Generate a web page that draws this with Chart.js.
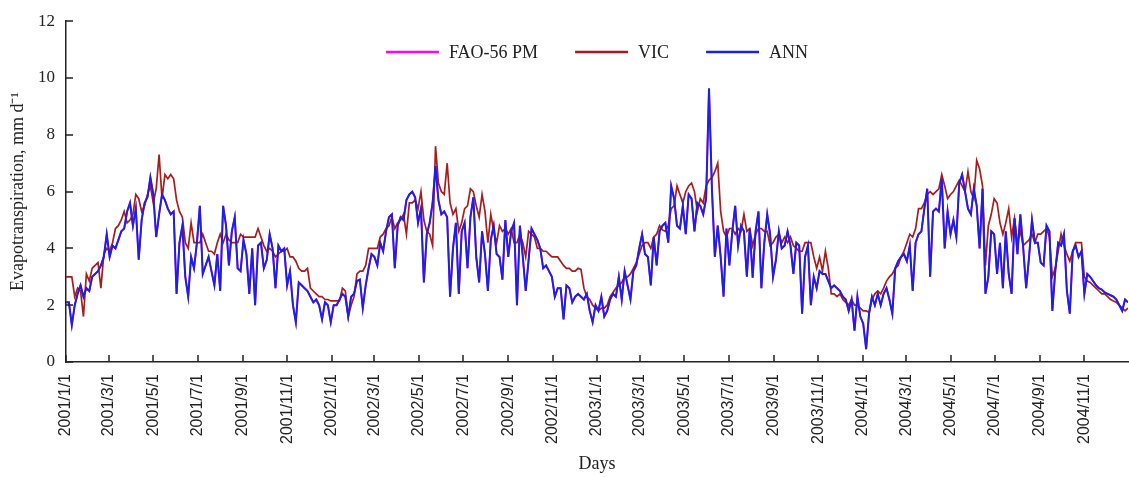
<!DOCTYPE html>
<html>
<head>
<meta charset="utf-8">
<title>Evapotranspiration 2001-2004</title>
<script src="https://cdn.jsdelivr.net/npm/chart.js@4.4.1/dist/chart.umd.min.js"></script>
<style>
  html, body { margin: 0; padding: 0; background: #fff; }
  canvas { display: block; }
</style>
</head>
<body>
<canvas id="etChart" width="1129" height="477"></canvas>
<script>
(function () {
    'use strict';

    // one value every 4 days, starting 2001/1/1 (366 samples up to 2004/12/31)
    const START_DATE = '2001/1/1';
    const STEP_DAYS = 4;

    const SERIES_NAMES = ['FAO-56 PM', 'VIC', 'ANN'];

    const TICK_LABELS = [
        '2001/1/1', '2001/3/1', '2001/5/1', '2001/7/1', '2001/9/1', '2001/11/1',
        '2002/1/1', '2002/3/1', '2002/5/1', '2002/7/1', '2002/9/1', '2002/11/1',
        '2003/1/1', '2003/3/1', '2003/5/1', '2003/7/1', '2003/9/1', '2003/11/1',
        '2004/1/1', '2004/3/1', '2004/5/1', '2004/7/1', '2004/9/1', '2004/11/1'
    ];
    const Y_TICKS = [0, 2, 4, 6, 8, 10, 12];

    // ANN estimate (mm/d)
    const annValues = [
        2.1,2.1,1.3,2.0,2.4,2.7,2.3,2.6,2.5,3.0, 3.1,3.2,3.4,3.7,4.5,3.7,4.1,4.0,4.3,4.6,
        4.7,5.3,5.6,4.8,5.4,3.6,5.0,5.6,5.8,6.5, 5.9,4.4,5.2,5.9,5.7,5.4,5.2,5.3,2.4,4.2,
        4.8,3.0,2.3,3.7,3.3,4.2,5.5,3.1,3.4,3.7, 3.2,2.7,3.8,2.5,5.5,4.8,3.4,4.6,5.1,3.3,
        3.2,4.3,3.8,2.4,4.0,2.0,4.1,4.2,3.3,3.6, 4.5,4.0,2.6,4.1,3.9,4.0,2.7,3.2,2.0,1.4,
        2.8,2.7,2.6,2.5,2.3,2.1,2.2,2.0,1.5,2.1, 2.0,1.4,2.0,2.0,2.2,2.4,2.3,1.6,2.3,2.4,
        2.85,2.9,1.9,2.7,3.3,3.8,3.7,3.4,4.2,3.9, 4.6,5.1,5.2,3.3,4.8,5.1,5.0,5.7,5.9,
        6.0,5.8,4.9,5.4,2.8,4.5,4.9,5.6,6.9,5.7, 5.2,5.3,5.1,2.3,4.0,4.9,2.4,4.6,4.9,3.3,
        5.1,5.8,3.7,2.8,4.6,3.8,2.5,4.3,4.8,3.8, 3.7,2.9,5.0,3.7,4.6,4.9,2.0,4.8,3.7,2.5,
        3.6,4.7,4.5,4.3,4.0,3.3,3.4,3.2,3.0,2.3, 2.6,2.6,1.5,2.7,2.6,2.1,2.3,2.4,
        2.3,2.2,2.4,1.8,1.4,2.0,1.8,2.3,1.6,1.8, 2.2,2.4,2.3,3.0,2.2,3.2,2.7,2.2,3.2,3.4,
        4.0,4.5,3.8,3.7,2.7,4.4,3.4,4.6,4.8,4.9, 4.2,6.2,5.75,4.8,4.7,5.5,4.5,5.9,5.75,4.6,
        5.6,5.5,5.2,5.75,9.64,6.1,3.7,4.8,3.7,2.3, 4.7,3.4,4.6,5.5,4.1,4.8,4.6,3.0,4.7,
        2.97,4.6,5.3,2.6,4.2,5.2,4.5,3.0,3.6,4.6, 4.0,4.1,4.6,4.1,3.1,4.2,4.1,1.7,3.7,4.1,
        2.0,3.0,2.6,3.2,3.1,3.1,2.85,2.6,2.7,2.6, 2.5,2.3,2.2,1.8,2.2,1.1,2.3,1.6,1.35,0.45,
        1.7,2.3,2.0,2.4,2.0,2.4,2.6,2.2,1.7,3.3, 3.55,3.7,3.8,3.55,4.1,2.5,4.2,4.5,
        4.6,5.4,6.1,3.0,5.3,5.4,5.3,6.45,4.0,5.3, 4.5,5.0,4.4,6.3,6.6,6.0,5.4,5.2,6.1,5.5,
        4.0,6.1,2.4,3.0,4.6,4.5,3.1,4.2,2.6,4.6, 3.1,2.4,5.06,3.8,5.2,4.0,2.6,3.7,5.0,4.2,
        4.2,3.5,3.4,4.8,4.6,1.8,3.2,4.2,4.1,4.5, 2.5,1.7,3.9,4.1,3.7,3.9,2.4,3.1,3.0,2.85,
        2.7,2.6,2.55,2.45,2.4,2.35,2.3,2.2,2.0,1.8, 2.2,2.1
    ];

    // VIC estimate (mm/d)
    const vicValues = [
        3.0,3.0,3.0,2.3,2.6,2.5,1.6,3.1,2.85,3.3, 3.4,3.5,2.6,3.8,4.0,3.9,4.2,4.7,4.8,5.0,
        5.3,4.9,5.0,5.2,5.9,5.75,5.3,5.5,5.9,6.2, 5.6,6.1,7.3,5.75,6.6,6.45,6.6,6.45,5.7,5.3,
        5.1,4.2,4.0,4.9,4.2,4.2,4.2,4.5,4.2,3.9, 3.9,3.8,4.2,4.5,4.2,4.5,4.3,4.2,4.2,4.2,
        4.5,4.4,4.4,4.4,4.4,4.4,4.7,4.4,4.1,3.9, 4.0,3.9,3.7,3.8,3.9,3.9,4.0,3.7,3.7,3.55,
        3.3,3.2,3.2,3.3,2.6,2.5,2.4,2.3,2.3,2.2, 2.2,2.15,2.15,2.15,2.15,2.6,2.5,1.6,2.0,2.3,
        3.1,3.2,3.2,3.4,4.0,4.0,4.0,4.0,4.4,4.5, 4.7,4.8,5.1,4.7,4.9,5.0,5.2,4.5,5.6,
        5.6,5.7,5.4,6.0,5.0,4.6,4.5,4.1,7.6,6.3, 6.0,5.9,7.0,5.6,5.2,5.4,4.6,4.9,5.4,5.5,
        6.1,6.0,5.5,5.1,5.9,5.3,4.2,5.2,4.6,4.2, 4.8,4.6,4.7,4.5,4.7,4.2,4.2,4.5,4.2,3.7,
        4.6,4.5,4.4,4.0,4.0,3.9,3.9,3.8,3.7,3.7, 3.7,3.55,3.4,3.3,3.3,3.2,3.2,3.3,
        3.26,2.6,2.3,2.2,2.0,1.9,1.8,1.9,1.9,2.0, 2.3,2.45,2.6,2.7,2.8,3.0,3.0,3.1,3.3,3.5,
        3.8,4.1,4.2,4.2,4.0,4.4,4.5,4.8,4.65,4.6, 4.8,5.4,5.5,6.2,5.9,5.6,6.0,6.2,6.3,6.0,
        5.3,5.75,5.6,6.2,6.4,6.5,6.7,7.0,5.3,4.6, 4.4,4.7,4.7,4.5,4.7,4.6,5.2,4.6,4.7,
        4.1,4.5,4.7,4.7,4.6,4.6,4.1,4.2,4.4,4.5, 4.2,4.4,4.2,4.4,4.1,4.0,3.9,3.9,4.2,4.2,
        4.2,3.7,3.3,3.7,3.2,3.9,3.3,2.4,2.4,2.3, 2.4,2.2,2.1,2.0,2.2,2.0,2.0,1.9,1.8,1.8,
        1.75,2.2,2.4,2.5,2.4,2.6,2.85,3.0,3.1,3.3, 3.4,3.7,3.9,4.2,4.5,4.4,4.7,5.4,
        5.4,5.6,5.9,6.0,5.9,6.0,6.1,6.6,6.2,5.75, 5.9,6.0,6.2,6.4,6.2,6.0,6.7,6.0,5.75,7.1,
        6.8,6.2,3.4,4.8,5.2,5.75,5.6,4.9,4.5,4.9, 5.4,4.4,5.06,4.2,4.6,4.1,4.2,4.3,4.5,4.2,
        4.5,4.5,4.6,4.7,4.4,3.0,3.3,3.9,4.5,4.1, 3.8,3.55,3.9,4.2,4.2,4.2,3.0,2.85,2.8,2.7,
        2.6,2.5,2.4,2.4,2.3,2.2,2.15,2.1,2.0,1.9, 1.8,1.9
    ];

    // FAO-56 PM estimate (mm/d) - lies under the ANN line almost everywhere
    const faoValues = [
        2.1,2.1,1.3,2.0,2.4,2.7,2.3,2.6,2.5,3.0, 3.1,3.2,3.4,3.7,4.5,3.7,4.1,4.0,4.3,4.6,
        4.7,5.3,5.6,4.8,5.4,3.6,5.0,5.6,5.8,6.5, 5.9,4.4,5.2,5.9,5.7,5.4,5.2,5.3,2.4,4.2,
        4.8,3.0,2.3,3.7,3.3,4.2,5.5,3.1,3.4,3.7, 3.2,2.7,3.8,2.5,5.5,4.8,3.4,4.6,5.1,3.3,
        3.2,4.3,3.8,2.4,4.0,2.0,4.1,4.2,3.3,3.6, 4.5,4.0,2.6,4.1,3.9,4.0,2.7,3.2,2.0,1.4,
        2.8,2.7,2.6,2.5,2.3,2.1,2.2,2.0,1.5,2.1, 2.0,1.4,2.0,2.0,2.2,2.4,2.3,1.6,2.3,2.4,
        2.85,2.9,1.9,2.7,3.3,3.8,3.7,3.4,4.2,3.9, 4.6,5.1,5.2,3.3,4.8,5.1,5.0,5.7,5.9,
        6.0,5.8,4.9,5.4,2.8,4.5,4.9,5.6,6.9,5.7, 5.2,5.3,5.1,2.3,4.0,4.9,2.4,4.6,4.9,3.3,
        5.1,5.8,3.7,2.8,4.6,3.8,2.5,4.3,4.8,3.8, 3.7,2.9,5.0,3.7,4.6,4.9,2.0,4.8,3.7,2.5,
        3.6,4.7,4.5,4.3,4.0,3.3,3.4,3.2,3.0,2.3, 2.6,2.6,1.5,2.7,2.6,2.1,2.3,2.4,
        2.3,2.2,2.4,1.8,1.4,2.0,1.8,2.3,1.6,1.8, 2.2,2.4,2.3,3.0,2.2,3.2,2.7,2.2,3.2,3.4,
        4.0,4.5,3.8,3.7,2.7,4.4,3.4,4.6,4.8,4.9, 4.2,6.2,5.75,4.8,4.7,5.5,4.5,5.9,5.75,4.6,
        5.6,5.5,5.2,5.75,9.6,6.1,3.7,4.8,3.7,2.3, 4.7,3.4,4.6,5.5,4.1,4.8,4.6,3.0,4.7,
        2.97,4.6,5.3,2.6,4.2,5.2,4.5,3.0,3.6,4.6, 4.0,4.1,4.6,4.1,3.1,4.2,4.1,1.7,3.7,4.1,
        2.0,3.0,2.6,3.2,3.1,3.1,2.85,2.6,2.7,2.6, 2.5,2.3,2.2,1.8,2.2,1.1,2.3,1.6,1.35,0.45,
        1.7,2.3,2.0,2.4,2.0,2.4,2.6,2.2,1.7,3.3, 3.55,3.7,3.8,3.55,4.1,2.5,4.2,4.5,
        4.6,5.4,6.1,3.0,5.3,5.4,5.3,6.45,4.0,5.3, 4.5,5.0,4.4,6.3,6.6,6.0,5.4,5.2,6.1,5.5,
        4.0,6.1,2.4,3.0,4.6,4.5,3.1,4.2,2.6,4.6, 3.1,2.4,5.06,3.8,5.2,4.0,2.6,3.7,5.0,4.2,
        4.2,3.5,3.4,4.8,4.6,1.8,3.2,4.2,4.1,4.5, 2.5,1.7,3.9,4.1,3.7,3.9,2.4,3.1,3.0,2.85,
        2.7,2.6,2.55,2.45,2.4,2.35,2.3,2.2,2.0,1.8, 2.2,2.1
    ];

    // -------- utils --------
    const dayIndex = label => {
        const [y, m, d] = label.split('/').map(Number);
        const [y0, m0, d0] = START_DATE.split('/').map(Number);
        return Math.round((Date.UTC(y, m - 1, d) - Date.UTC(y0, m0 - 1, d0)) / 86400000);
    };
    const toPoints = arr => arr.map((v, i) => ({ x: i * STEP_DAYS, y: v }));

    const tickDays = TICK_LABELS.map(dayIndex);
    const lastDay = (annValues.length - 1) * STEP_DAYS;

    const SERIF = '"Liberation Serif", "Times New Roman", serif';
    const SANS = '"Liberation Sans", Arial, sans-serif';
    const AXIS_COLOR = '#222';

    // ticks pointing into the plot, like the original figure
    const innerTicks = {
        id: 'innerTicks',
        afterDraw(chart) {
            const { ctx, chartArea: a, scales: { x, y } } = chart;
            ctx.save();
            ctx.strokeStyle = AXIS_COLOR;
            ctx.lineWidth = 1.5;
            ctx.beginPath();
            x.ticks.forEach(t => {
                const px = Math.round(x.getPixelForValue(t.value));
                ctx.moveTo(px, a.bottom);
                ctx.lineTo(px, a.bottom - 7);
            });
            y.ticks.forEach(t => {
                const py = Math.round(y.getPixelForValue(t.value));
                ctx.moveTo(a.left, py);
                ctx.lineTo(a.left + 7, py);
            });
            ctx.stroke();
            ctx.restore();
        }
    };

    // legend drawn inside the plot with line samples
    const lineLegend = {
        id: 'lineLegend',
        afterDraw(chart) {
            const { ctx, chartArea: a } = chart;
            const LINE = 53, GAP = 10, SPACE = 37, Y = 52;
            ctx.save();
            ctx.font = '18px ' + SERIF;
            const items = chart.data.datasets.map(ds => ({
                label: ds.label, color: ds.borderColor, w: ctx.measureText(ds.label).width
            }));
            const total = items.reduce((s, it) => s + LINE + GAP + it.w, 0) + SPACE * (items.length - 1);
            let x = (a.left + a.right) / 2 - total / 2;
            items.forEach(it => {
                ctx.strokeStyle = it.color;
                ctx.lineWidth = 2.5;
                ctx.beginPath();
                ctx.moveTo(x, Y);
                ctx.lineTo(x + LINE, Y);
                ctx.stroke();
                ctx.fillStyle = '#222';
                ctx.textBaseline = 'middle';
                ctx.textAlign = 'left';
                ctx.fillText(it.label, x + LINE + GAP, Y + 1);
                x += LINE + GAP + it.w + SPACE;
            });
            ctx.restore();
        }
    };

    const ds = (label, values, color, width, order) => ({
        label,
        data: toPoints(values),
        borderColor: color,
        backgroundColor: color,
        borderWidth: width,
        pointRadius: 0,
        tension: 0,
        fill: false,
        order
    });

    new Chart(document.getElementById('etChart').getContext('2d'), {
        type: 'line',
        data: {
            datasets: [
                ds(SERIES_NAMES[0], faoValues, '#ff00ff', 1.7, 3),
                ds(SERIES_NAMES[1], vicValues, '#a81c1c', 1.7, 2),
                ds(SERIES_NAMES[2], annValues, '#1e1ee8', 2, 1)
            ]
        },
        plugins: [innerTicks, lineLegend],
        options: {
            responsive: false,
            animation: false,
            devicePixelRatio: 1,
            layout: { padding: { top: 17, right: 1, left: 0, bottom: 0 } },
            plugins: {
                legend: { display: false },
                tooltip: { enabled: false }
            },
            scales: {
                x: {
                    type: 'linear',
                    min: 0,
                    max: lastDay,
                    afterBuildTicks: s => { s.ticks = tickDays.map(v => ({ value: v })); },
                    afterFit: s => { s.height = 115; },
                    grid: { display: false, drawTicks: false },
                    border: { display: true, color: AXIS_COLOR, width: 1.5 },
                    ticks: {
                        autoSkip: false,
                        minRotation: 90,
                        maxRotation: 90,
                        padding: 12,
                        color: '#222',
                        font: { family: SANS, size: 16 },
                        callback: (v, i) => TICK_LABELS[i]
                    },
                    title: {
                        display: true,
                        text: 'Days',
                        color: '#222',
                        font: { family: SERIF, size: 18 },
                        padding: { top: 0, bottom: 2 }
                    }
                },
                y: {
                    min: Y_TICKS[0],
                    max: Y_TICKS[Y_TICKS.length - 1],
                    afterBuildTicks: s => { s.ticks = Y_TICKS.map(v => ({ value: v })); },
                    afterFit: s => { s.width = 66; },
                    grid: { display: false, drawTicks: false },
                    border: { display: true, color: AXIS_COLOR, width: 1.5 },
                    ticks: {
                        padding: 11,
                        color: '#222',
                        font: { family: SERIF, size: 17 }
                    },
                    title: {
                        display: true,
                        text: 'Evapotranspiration, mm d\u207B\u00B9',
                        color: '#222',
                        font: { family: SERIF, size: 18 },
                        padding: { top: 7, bottom: 0 }
                    }
                }
            }
        }
    });
})();
</script>
</body>
</html>
